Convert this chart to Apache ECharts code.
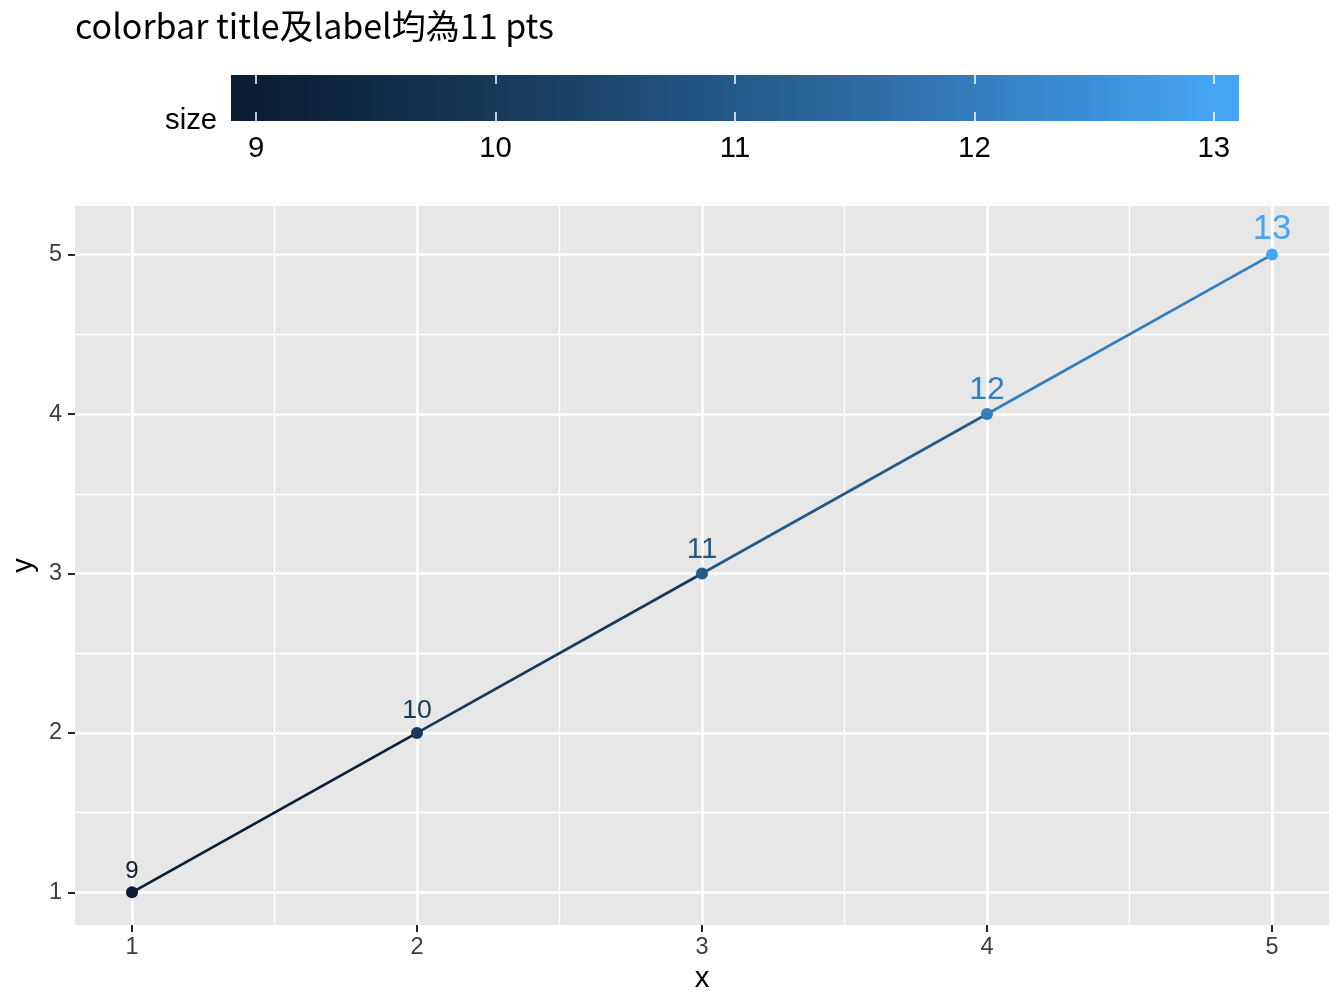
<!DOCTYPE html>
<html><head><meta charset="utf-8">
<script src="https://cdn.jsdelivr.net/npm/echarts@6/dist/echarts.min.js"></script>
<style>html,body{margin:0;padding:0;background:#fff}#c{width:1344px;height:1008px}</style>
</head><body><div id="c"></div>
<script>
// ---- data ----
const xValues = [1, 2, 3, 4, 5];
const yValues = [1, 2, 3, 4, 5];
const sizeValues = [9, 10, 11, 12, 13];
const xBreaks = [1, 2, 3, 4, 5];
const yBreaks = [1, 2, 3, 4, 5];
const xMinorBreaks = [1.5, 2.5, 3.5, 4.5];
const yMinorBreaks = [1.5, 2.5, 3.5, 4.5];
const colorbarBreaks = [9, 10, 11, 12, 13];
const titleText = 'colorbar title及label均為11 pts';
const legendTitle = 'size';
const xName = 'x';
const yName = 'y';

// ---- colour scale (Lab interpolation, like ggplot's seq_gradient) ----
const LOW = '#132B43', HIGH = '#56B1F7';
const LIMITS = [9, 13];
const GAMMA = 1.2; // tone of the reference rendering
function hexToRgb(h){ h = h.replace('#',''); return [0,2,4].map(i => parseInt(h.substr(i,2),16)); }
function tone(rgb){ return '#' + rgb.map(c => Math.round(255*Math.pow(Math.max(0, Math.min(255, c))/255, GAMMA)).toString(16).padStart(2,'0')).join(''); }
function toLin(c){ c /= 255; return c <= 0.04045 ? c/12.92 : Math.pow((c+0.055)/1.055, 2.4); }
function fromLin(c){ c = c <= 0.0031308 ? 12.92*c : 1.055*Math.pow(c, 1/2.4) - 0.055; return Math.max(0, Math.min(1, c))*255; }
const WN = [0.95047, 1, 1.08883];
function fLab(t){ return t > 0.008856 ? Math.cbrt(t) : 7.787*t + 16/116; }
function fLabInv(t){ return t*t*t > 0.008856 ? t*t*t : (t - 16/116)/7.787; }
function rgbToLab(rgb){
  const [R,G,B] = rgb.map(toLin);
  const X = 0.4124564*R + 0.3575761*G + 0.1804375*B;
  const Y = 0.2126729*R + 0.7151522*G + 0.0721750*B;
  const Z = 0.0193339*R + 0.1191920*G + 0.9503041*B;
  const fx = fLab(X/WN[0]), fy = fLab(Y/WN[1]), fz = fLab(Z/WN[2]);
  return [116*fy - 16, 500*(fx - fy), 200*(fy - fz)];
}
function labToRgb(lab){
  const fy = (lab[0] + 16)/116, fx = fy + lab[1]/500, fz = fy - lab[2]/200;
  const X = fLabInv(fx)*WN[0], Y = fLabInv(fy)*WN[1], Z = fLabInv(fz)*WN[2];
  const R =  3.2404542*X - 1.5371385*Y - 0.4985314*Z;
  const G = -0.9692660*X + 1.8760108*Y + 0.0415560*Z;
  const B =  0.0556434*X - 0.2040259*Y + 1.0572252*Z;
  return [R,G,B].map(fromLin);
}
const labLow = rgbToLab(hexToRgb(LOW)), labHigh = rgbToLab(hexToRgb(HIGH));
function colorOf(v){
  const t = Math.max(0, Math.min(1, (v - LIMITS[0])/(LIMITS[1] - LIMITS[0])));
  return tone(labToRgb(labLow.map((a,i) => a + (labHigh[i] - a)*t)));
}
const PANEL = tone(hexToRgb('#EBEBEB'));
const AXIS_TEXT = tone(hexToRgb('#4D4D4D'));
const AXIS_TICK = tone(hexToRgb('#333333'));

// colourbar gradient (20 bins, like guide_colourbar nbin)
const NBIN = 20;
const stops = [{offset: 0, color: colorOf(LIMITS[0])}];
for (let i = 0; i < NBIN; i++) {
  stops.push({offset: (i + 0.5)/NBIN, color: colorOf(LIMITS[0] + (LIMITS[1]-LIMITS[0])*i/(NBIN-1))});
}
stops.push({offset: 1, color: colorOf(LIMITS[1])});
const barPad = 0.5/NBIN*(LIMITS[1]-LIMITS[0])/(1 - 1/NBIN);
const cbMin = LIMITS[0] - barPad, cbMax = LIMITS[1] + barPad;

const SANS = 'Liberation Sans';
const CJK = 'Noto Sans CJK TC';

// ---- series ----
const series = [];
// grid lines via markLine
const markData = [];
xBreaks.forEach(v => markData.push({xAxis: v, lineStyle: {width: 2.7}}));
xMinorBreaks.forEach(v => markData.push({xAxis: v, lineStyle: {width: 1.35}}));
yBreaks.forEach(v => markData.push({yAxis: v, lineStyle: {width: 2.7}}));
yMinorBreaks.forEach(v => markData.push({yAxis: v, lineStyle: {width: 1.35}}));
series.push({
  type: 'line', xAxisIndex: 0, yAxisIndex: 0, z: 1, silent: true,
  data: [[xValues[0], yValues[0]]], symbol: 'none', lineStyle: {opacity: 0},
  markLine: {silent: true, z: 1, symbol: ['none','none'], label: {show: false}, animation: false,
    emphasis: {disabled: true},
    lineStyle: {color: '#ffffff', type: 'solid'}, data: markData}
});
// line segments coloured by starting point
for (let i = 0; i < xValues.length - 1; i++) {
  series.push({
    type: 'line', xAxisIndex: 0, yAxisIndex: 0, z: 3, silent: true,
    data: [[xValues[i], yValues[i]], [xValues[i+1], yValues[i+1]]],
    symbol: 'none', lineStyle: {color: colorOf(sizeValues[i]), width: 2.7}
  });
}
// points + labels (label font size in pt = size value)
const PX_PER_PT = 192/72;
series.push({
  type: 'scatter', xAxisIndex: 0, yAxisIndex: 0, z: 4, symbolSize: 12,
  data: xValues.map((x, i) => {
    const s = sizeValues[i];
    const fs = s*PX_PER_PT;
    const c = colorOf(s);
    return {
      value: [x, yValues[i], s],
      itemStyle: {color: c, opacity: 1},
      label: {fontSize: fs, color: c, distance: 7 - 0.15*fs}
    };
  }),
  label: {show: true, position: 'top', fontFamily: SANS, formatter: p => String(p.value[2])}
});
// colourbar grid placeholder
series.push({type: 'scatter', xAxisIndex: 1, yAxisIndex: 1, data: [], silent: true});

const option = {
  animation: false,
  backgroundColor: '#ffffff',
  title: {
    text: titleText, left: 75, top: 9, padding: 0,
    textStyle: {fontFamily: CJK, fontSize: 34, fontWeight: 'normal', color: '#000000'}
  },
  grid: [
    {left: 75, right: 15, top: 206, bottom: 83, show: true, backgroundColor: PANEL, borderWidth: 0},
    {left: 231, top: 75, width: 1008, height: 46, show: true, borderWidth: 0,
     backgroundColor: new echarts.graphic.LinearGradient(0, 0, 1, 0, stops)}
  ],
  xAxis: [
    {gridIndex: 0, type: 'value', min: 0.8, max: 5.2,
     splitLine: {show: false}, axisLine: {show: false},
     axisTick: {show: true, length: 7, lineStyle: {color: AXIS_TICK, width: 2}, customValues: xBreaks},
     axisLabel: {customValues: xBreaks, fontSize: 23.5, color: AXIS_TEXT, margin: 11, fontFamily: SANS},
     name: xName, nameLocation: 'middle', nameGap: 37,
     nameTextStyle: {fontSize: 29.3, color: '#000000', fontFamily: SANS}},
    {gridIndex: 1, type: 'value', min: cbMin, max: cbMax, position: 'bottom',
     splitLine: {show: false}, axisLine: {show: false},
     axisTick: {show: true, inside: true, length: 9, lineStyle: {color: '#ffffff', width: 1.5}, customValues: colorbarBreaks},
     axisLabel: {customValues: colorbarBreaks, fontSize: 29.3, color: '#000000', margin: 13, fontFamily: SANS}},
    {gridIndex: 1, type: 'value', min: cbMin, max: cbMax, position: 'top',
     splitLine: {show: false}, axisLine: {show: false},
     axisTick: {show: true, inside: true, length: 9, lineStyle: {color: '#ffffff', width: 1.5}, customValues: colorbarBreaks},
     axisLabel: {show: false}}
  ],
  yAxis: [
    {gridIndex: 0, type: 'value', min: 0.795, max: 5.305,
     splitLine: {show: false}, axisLine: {show: false},
     axisTick: {show: true, length: 7, lineStyle: {color: AXIS_TICK, width: 2}, customValues: yBreaks},
     axisLabel: {customValues: yBreaks, fontSize: 23.5, color: AXIS_TEXT, margin: 13, fontFamily: SANS},
     name: yName, nameLocation: 'middle', nameGap: 31, nameRotate: 90,
     nameTextStyle: {fontSize: 29.3, color: '#000000', fontFamily: SANS}},
    {gridIndex: 1, type: 'value', min: 0, max: 1, show: false}
  ],
  graphic: [
    {type: 'text', left: 165, top: 106, silent: true,
     style: {text: legendTitle, fontSize: 29.3, fontFamily: SANS, fill: '#000000'}}
  ],
  series: series
};
const chart = echarts.init(document.getElementById('c'), null, {renderer: 'canvas'});
chart.setOption(option);
</script>
</body></html>
